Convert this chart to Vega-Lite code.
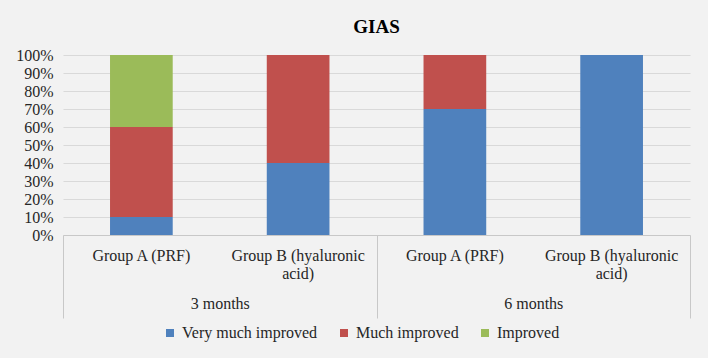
{
  "$schema": "https://vega.github.io/schema/vega-lite/v6.json",
  "autosize": {"type": "none"},
  "width": 627,
  "height": 180,
  "padding": {"left": 63, "top": 55, "right": 18, "bottom": 123},
  "background": "#f2f2f2",
  "title": {"text": "GIAS", "font": "Liberation Serif", "fontSize": 19, "fontWeight": "bold", "color": "#000000", "anchor": "middle", "offset": 10},
  "config": {
    "view": {"stroke": null},
    "font": "Liberation Serif",
    "axis": {"labelFont": "Liberation Serif"},
    "legend": {"labelFont": "Liberation Serif"}
  },
  "data": {"values": [
    {"period": "3 months", "key": "3 months|Group A (PRF)", "status": "Very much improved", "rank": 1, "pct": 0.10},
    {"period": "3 months", "key": "3 months|Group A (PRF)", "status": "Much improved", "rank": 2, "pct": 0.50},
    {"period": "3 months", "key": "3 months|Group A (PRF)", "status": "Improved", "rank": 3, "pct": 0.40},
    {"period": "3 months", "key": "3 months|Group B (hyaluronic|acid)", "status": "Very much improved", "rank": 1, "pct": 0.40},
    {"period": "3 months", "key": "3 months|Group B (hyaluronic|acid)", "status": "Much improved", "rank": 2, "pct": 0.60},
    {"period": "6 months", "key": "6 months|Group A (PRF)", "status": "Very much improved", "rank": 1, "pct": 0.70},
    {"period": "6 months", "key": "6 months|Group A (PRF)", "status": "Much improved", "rank": 2, "pct": 0.30},
    {"period": "6 months", "key": "6 months|Group B (hyaluronic|acid)", "status": "Very much improved", "rank": 1, "pct": 1.00}
  ]},
  "layer": [
    {
      "mark": {"type": "bar"},
      "encoding": {
        "x": {
          "field": "key", "type": "nominal", "sort": null,
          "scale": {"paddingInner": 0.6, "paddingOuter": 0.3},
          "axis": {
            "title": null, "labelAngle": 0, "ticks": false,
            "domain": true, "domainColor": "#c8c8c8",
            "labelExpr": "slice(split(datum.label, '|'), 1)",
            "labelFont": "Liberation Serif", "labelFontSize": 16, "labelColor": "#262626",
            "labelPadding": 12, "labelLineHeight": 18, "labelLimit": 200
          }
        },
        "y": {
          "field": "pct", "type": "quantitative", "stack": "zero",
          "scale": {"domain": [0, 1]},
          "axis": {
            "title": null, "format": ".0%", "values": [0, 0.1, 0.2, 0.3, 0.4, 0.5, 0.6, 0.7, 0.8, 0.9, 1],
            "ticks": false, "domain": false, "gridColor": "#d9d9d9",
            "labelFont": "Liberation Serif", "labelFontSize": 16, "labelColor": "#262626", "labelPadding": 10
          }
        },
        "color": {
          "field": "status", "type": "nominal",
          "scale": {"domain": ["Very much improved", "Much improved", "Improved"], "range": ["#4f81bd", "#c0504d", "#9bbb59"]},
          "legend": {
            "title": null, "orient": "none", "direction": "horizontal", "legendX": 99, "legendY": 270,
            "symbolType": "square", "symbolSize": 64, "symbolStrokeWidth": 0,
            "labelFont": "Liberation Serif", "labelFontSize": 16, "labelColor": "#262626",
            "columnPadding": 18, "labelOffset": 4
          }
        },
        "order": {"field": "rank", "type": "quantitative"}
      }
    },
    {
      "mark": {"type": "rule", "opacity": 0},
      "encoding": {
        "x": {
          "field": "period", "type": "nominal",
          "scale": {"paddingInner": 0, "paddingOuter": 0},
          "axis": {
            "title": null, "orient": "bottom", "labelAngle": 0, "domain": false, "grid": false,
            "tickBand": "extent", "tickSize": 83, "tickColor": "#c8c8c8",
            "labelFont": "Liberation Serif", "labelFontSize": 16, "labelColor": "#262626",
            "labelPadding": -23
          }
        }
      }
    }
  ],
  "resolve": {"scale": {"x": "independent"}, "axis": {"x": "independent"}}
}
